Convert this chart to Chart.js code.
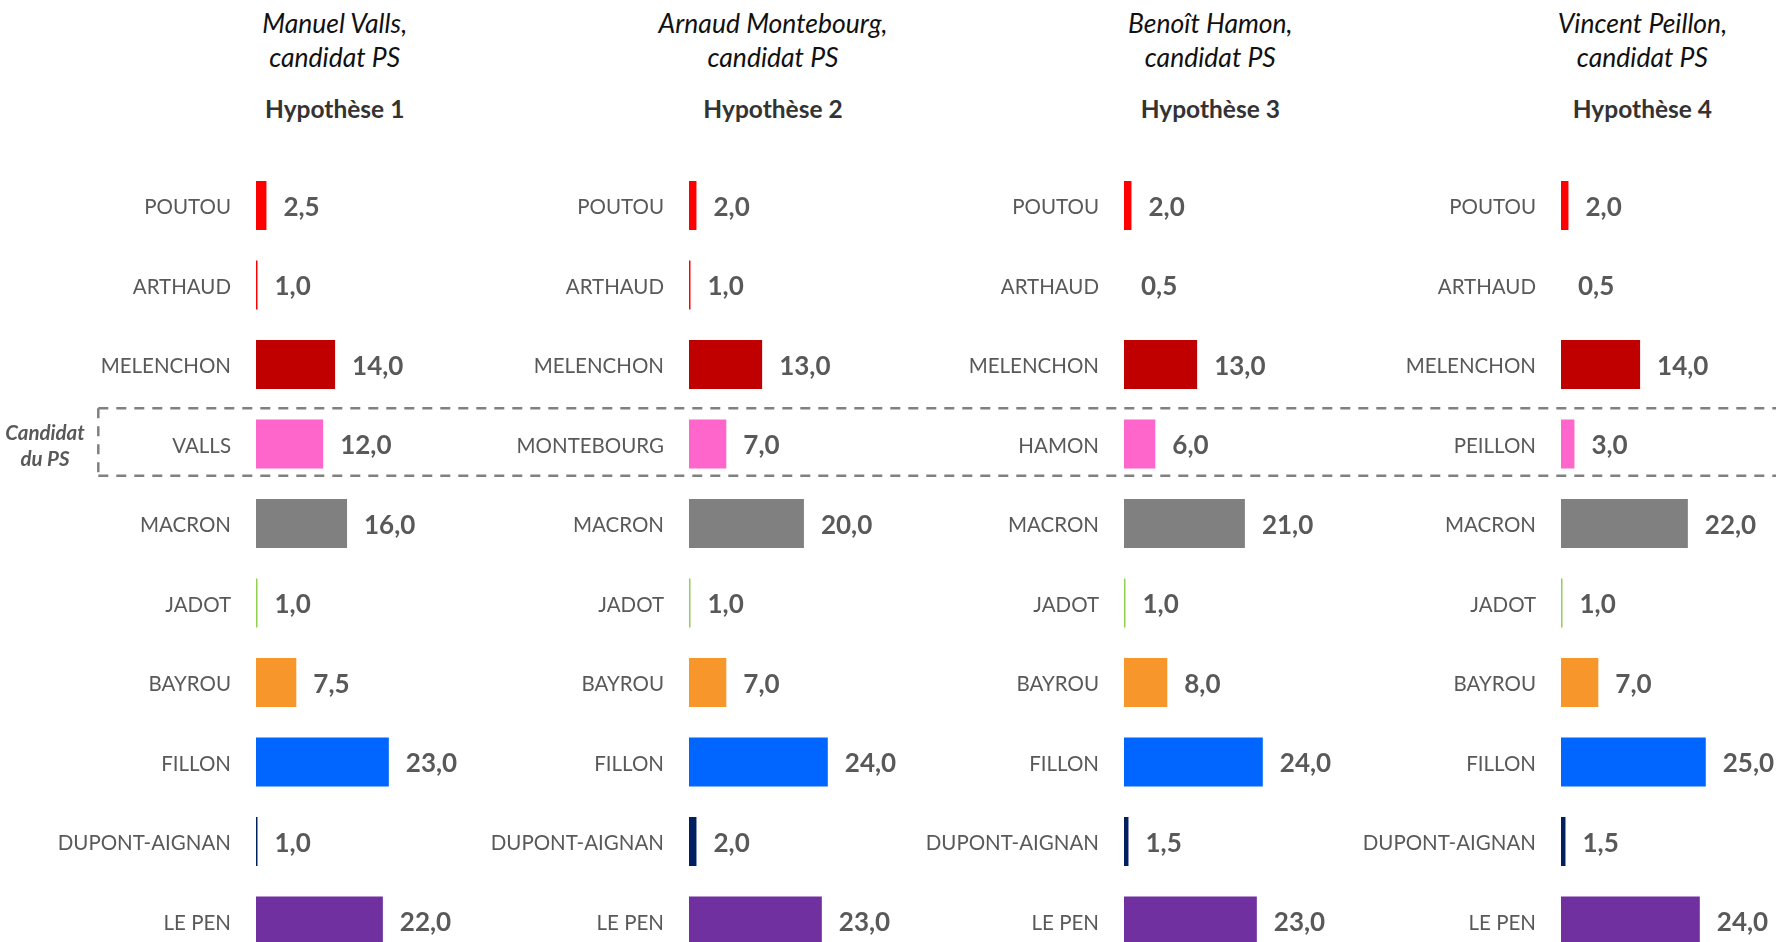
<!DOCTYPE html>
<html>
<head>
<meta charset="utf-8">
<script src="https://cdn.jsdelivr.net/npm/chart.js@4.4.1/dist/chart.umd.min.js"></script>
<style>
  html, body { margin:0; padding:0; width:1776px; height:942px; overflow:hidden; background:#ffffff; font-family: Lato, "Noto Sans", sans-serif; }
  #stage { position:relative; width:1776px; height:942px; overflow:hidden; }
  #stage canvas { position:absolute; top:0; }
  .t { position:absolute; transform:translate(-50%,-50%); white-space:nowrap; }
  .it { font-style:italic; font-size:26.5px; color:#111111; }
  .hy { font-weight:bold; font-size:24.5px; color:#333333; }
  .ps { position:absolute; transform:translate(-50%,-50%); white-space:nowrap; text-align:center;
        font-weight:bold; font-style:italic; font-size:20.5px; line-height:26px; color:#595959; }
</style>
</head>
<body>
<div id="stage"></div>
<script>
// ---------------- DATA ----------------
const categories1 = ['POUTOU','ARTHAUD','MELENCHON','VALLS','MACRON','JADOT','BAYROU','FILLON','DUPONT-AIGNAN','LE PEN'];
const categories2 = ['POUTOU','ARTHAUD','MELENCHON','MONTEBOURG','MACRON','JADOT','BAYROU','FILLON','DUPONT-AIGNAN','LE PEN'];
const categories3 = ['POUTOU','ARTHAUD','MELENCHON','HAMON','MACRON','JADOT','BAYROU','FILLON','DUPONT-AIGNAN','LE PEN'];
const categories4 = ['POUTOU','ARTHAUD','MELENCHON','PEILLON','MACRON','JADOT','BAYROU','FILLON','DUPONT-AIGNAN','LE PEN'];

const values1 = [2.5, 1.0, 14.0, 12.0, 16.0, 1.0, 7.5, 23.0, 1.0, 22.0];
const values2 = [2.0, 1.0, 13.0,  7.0, 20.0, 1.0, 7.0, 24.0, 2.0, 23.0];
const values3 = [2.0, 0.5, 13.0,  6.0, 21.0, 1.0, 8.0, 24.0, 1.5, 23.0];
const values4 = [2.0, 0.5, 14.0,  3.0, 22.0, 1.0, 7.0, 25.0, 1.5, 24.0];

const titleNames = ['Manuel Valls,', 'Arnaud Montebourg,', 'Benoît Hamon,', 'Vincent Peillon,'];
const titleSub = 'candidat PS';
const hypotheses = ['Hypothèse 1', 'Hypothèse 2', 'Hypothèse 3', 'Hypothèse 4'];
const psLabel = ['Candidat', 'du PS'];

const barColors = ['#FF0000','#FF0000','#C00000','#FF66CC','#808080','#92D050','#F7962A','#0066FF','#002060','#7030A0'];

// ---------------- LAYOUT ----------------
const PANELS = [
  { cats: categories1, vals: values1, left: 0,    barStart: 256,  width: 469, titleX: 334.7 },
  { cats: categories2, vals: values2, left: 469,  barStart: 689,  width: 435, titleX: 773.0 },
  { cats: categories3, vals: values3, left: 904,  barStart: 1124, width: 437, titleX: 1210.3 },
  { cats: categories4, vals: values4, left: 1341, barStart: 1561, width: 435, titleX: 1642.4 }
];
const CANVAS_H = 962;
const PAD_TOP = 165.75;
const PAD_BOTTOM = 1.25;
const X_MIN = 0.75, X_MAX = 36;
const PX_PER_UNIT = 5.97;
const AREA_W = (X_MAX - X_MIN) * PX_PER_UNIT;
const BOX_LEFT = 98.3;
const PS_INDEX = 3;

const stage = document.getElementById('stage');

function addText(cls, txt, x, y) {
  const d = document.createElement('div');
  d.className = 't ' + cls;
  d.textContent = txt;
  d.style.left = x + 'px';
  d.style.top = y + 'px';
  stage.appendChild(d);
}

const fmt = v => v.toFixed(1).replace('.', ',');

PANELS.forEach((p, i) => {
  addText('it', titleNames[i], p.titleX, 22.7);
  addText('it', titleSub, p.titleX, 56.6);
  addText('hy', hypotheses[i], p.titleX, 107.6);

  const cv = document.createElement('canvas');
  cv.width = p.width;
  cv.height = CANVAS_H;
  cv.style.left = p.left + 'px';
  cv.style.width = p.width + 'px';
  cv.style.height = CANVAS_H + 'px';
  stage.appendChild(cv);

  const yW = p.barStart - p.left;
  const padRight = p.width - yW - AREA_W;

  const boxPlugin = {
    id: 'psBox' + i,
    beforeDatasetsDraw(chart) {
      const ys = chart.scales.y;
      const yc = ys.getPixelForValue(PS_INDEX);
      const cat = ys.getPixelForValue(PS_INDEX + 1) - yc;
      const top = yc - 0.45 * cat;
      const bottom = yc + 0.40 * cat;
      const x0 = i === 0 ? BOX_LEFT : 0;
      const x1 = chart.width;
      const ctx = chart.ctx;
      ctx.save();
      ctx.strokeStyle = '#808080';
      ctx.lineWidth = 2.5;
      ctx.setLineDash([10, 8]);
      ctx.lineDashOffset = p.left + x0 - BOX_LEFT;
      ctx.beginPath();
      ctx.moveTo(x0, top); ctx.lineTo(x1, top);
      ctx.moveTo(x0, bottom); ctx.lineTo(x1, bottom);
      ctx.stroke();
      if (i === 0) {
        ctx.lineDashOffset = 0;
        ctx.beginPath();
        ctx.moveTo(x0, top); ctx.lineTo(x0, bottom);
        ctx.stroke();
      }
      ctx.restore();
    }
  };

  const valuePlugin = {
    id: 'valLabels' + i,
    afterDatasetsDraw(chart) {
      const ctx = chart.ctx;
      const meta = chart.getDatasetMeta(0);
      const data = chart.data.datasets[0].data;
      ctx.save();
      ctx.font = 'bold 26px Lato, "Noto Sans", sans-serif';
      ctx.fillStyle = '#595959';
      ctx.textAlign = 'left';
      ctx.textBaseline = 'middle';
      meta.data.forEach((el, k) => {
        const x = Math.max(el.x, el.base) + 17;
        ctx.fillText(fmt(data[k]), x, el.y + 2);
      });
      ctx.restore();
    }
  };

  new Chart(cv, {
    type: 'bar',
    data: {
      labels: p.cats,
      datasets: [{
        data: p.vals,
        backgroundColor: barColors,
        borderWidth: 0,
        base: X_MIN,
        clip: 0,
        categoryPercentage: 1.0,
        barPercentage: 0.616
      }]
    },
    options: {
      indexAxis: 'y',
      responsive: false,
      maintainAspectRatio: false,
      animation: false,
      devicePixelRatio: 1,
      layout: { padding: { top: PAD_TOP, bottom: PAD_BOTTOM, left: 0, right: padRight } },
      plugins: { legend: { display: false }, tooltip: { enabled: false }, title: { display: false } },
      scales: {
        x: { type: 'linear', display: false, min: X_MIN, max: X_MAX },
        y: {
          type: 'category',
          position: 'left',
          grid: { display: false, drawTicks: false },
          border: { display: false },
          ticks: { color: '#595959', padding: 25, labelOffset: 2, font: { family: 'Lato', size: 20.5 } },
          afterFit(scale) {
            scale.width = yW;
            scale.paddingTop = 0;
            scale.paddingBottom = 0;
          }
        }
      }
    },
    plugins: [boxPlugin, valuePlugin]
  });
});

const ps = document.createElement('div');
ps.className = 'ps';
ps.innerHTML = psLabel[0] + '<br>' + psLabel[1];
ps.style.left = '45px';
ps.style.top = '444.5px';
stage.appendChild(ps);
</script>
</body>
</html>
